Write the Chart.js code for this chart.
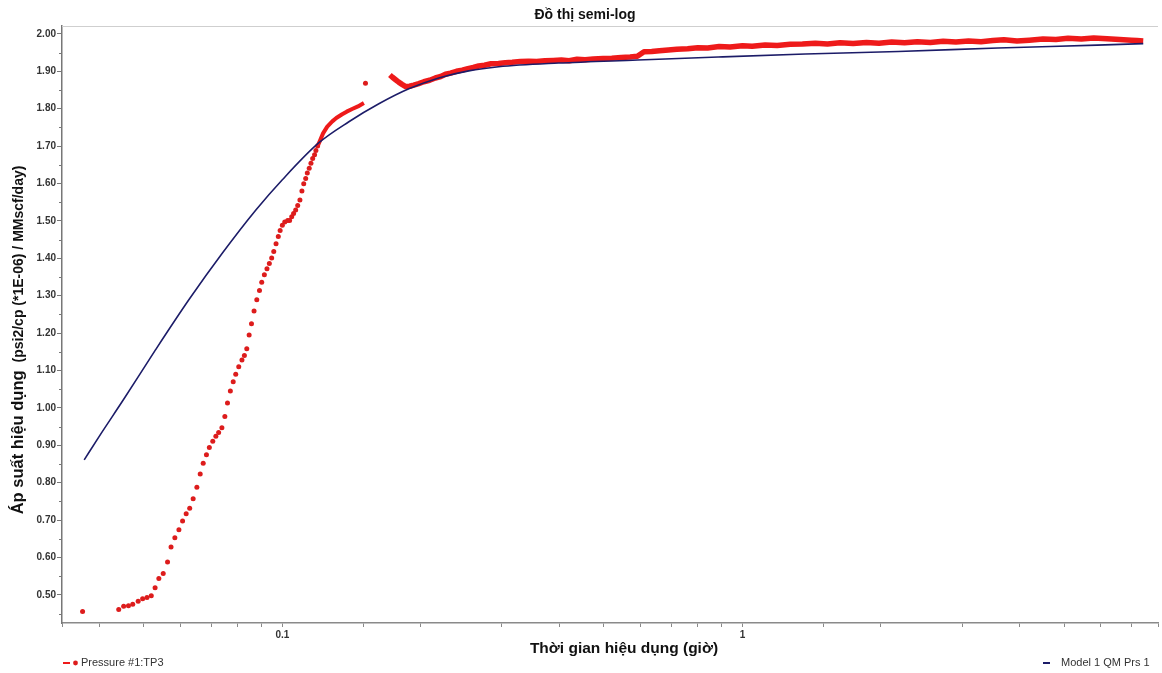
<!doctype html>
<html>
  <head>
    <meta charset="utf-8" />
    <title>Đồ thị semi-log</title>
    <script src="https://cdn.jsdelivr.net/npm/chart.js@4.4.1/dist/chart.umd.min.js"></script>
    <style>
      html, body { margin: 0; padding: 0; background: #fff; }
      canvas { display: block; }
    </style>
    <script>
      // sparse early samples of Pressure #1:TP3 (time in hours, value)
      const dotTime = [
        0.0368, 0.0441, 0.0452, 0.0463, 0.0473, 0.0486, 0.0497, 0.0508, 0.0519, 0.0529,
        0.0539, 0.0551, 0.0563, 0.0573, 0.0584, 0.0596, 0.0607, 0.0618, 0.0629, 0.0640,
        0.0652, 0.0663, 0.0673, 0.0684, 0.0694, 0.0706, 0.0717, 0.0727, 0.0739, 0.0750,
        0.0760, 0.0771, 0.0782, 0.0792, 0.0804, 0.0817, 0.0827, 0.0837, 0.0847, 0.0857,
        0.0868, 0.0880, 0.0892, 0.0902, 0.0914, 0.0926, 0.0937, 0.0948, 0.0958, 0.0969,
        0.0980, 0.0989, 0.1000, 0.1012, 0.1027, 0.1037, 0.1048, 0.1058, 0.1069, 0.1080,
        0.1092, 0.1103, 0.1113, 0.1124, 0.1133, 0.1144, 0.1154, 0.1164, 0.1175, 0.1183,
        0.1193, 0.1516
      ];
      const dotValue = [
        0.456, 0.461, 0.470, 0.471, 0.475, 0.483, 0.490, 0.493, 0.498, 0.519,
        0.544, 0.557, 0.588, 0.628, 0.653, 0.674, 0.698, 0.717, 0.732, 0.757,
        0.788, 0.823, 0.852, 0.875, 0.894, 0.911, 0.924, 0.934, 0.947, 0.977,
        1.013, 1.045, 1.070, 1.090, 1.110, 1.128, 1.140, 1.158, 1.195, 1.225,
        1.259, 1.289, 1.314, 1.336, 1.356, 1.372, 1.386, 1.401, 1.418, 1.439,
        1.458, 1.474, 1.488, 1.497, 1.501, 1.501, 1.511, 1.520, 1.529, 1.541,
        1.556, 1.580, 1.599, 1.613, 1.628, 1.641, 1.654, 1.667, 1.677, 1.688,
        1.700, 1.868
      ];

      // dense samples of the same gauge (drawn as a thick band), null = gap
      const bandTime = [
        0.1193, 0.1205, 0.1226, 0.1252, 0.1284, 0.131, 0.1349, 0.138, 0.1418, 0.146, 0.1504,
        0.16,
        0.1713, 0.1735, 0.176, 0.179, 0.182, 0.1854, 0.189, 0.193, 0.1979, 0.203,
        0.209, 0.215, 0.221, 0.2262, 0.232, 0.239, 0.246, 0.253, 0.26, 0.2671,
        0.275, 0.284, 0.295, 0.305, 0.316, 0.329, 0.343, 0.357, 0.372, 0.388,
        0.404, 0.42, 0.437, 0.455, 0.474, 0.498, 0.52, 0.545, 0.57, 0.591,
        0.611, 0.635, 0.66, 0.69, 0.72, 0.76, 0.8, 0.84, 0.89, 0.94,
        1.0, 1.05, 1.12, 1.19, 1.27, 1.35, 1.44, 1.53, 1.63, 1.74,
        1.86, 1.98, 2.11, 2.25, 2.4, 2.56, 2.73, 2.91, 3.1, 3.3,
        3.5, 3.7, 3.95, 4.2, 4.5, 4.8, 5.1, 5.45, 5.8, 6.2,
        6.6, 7.0, 7.2, 7.43
      ];
      const bandValue = [
        1.700, 1.712, 1.734, 1.752, 1.766, 1.775, 1.785, 1.792, 1.799, 1.806, 1.815,
        null,
        1.890, 1.884, 1.878, 1.871, 1.865, 1.859, 1.860, 1.863, 1.867, 1.872,
        1.876, 1.882, 1.886, 1.892, 1.895, 1.900, 1.903, 1.907, 1.910, 1.914,
        1.916, 1.920, 1.921, 1.923, 1.924, 1.926, 1.927, 1.926, 1.928, 1.929,
        1.930, 1.928, 1.932, 1.931, 1.933, 1.934, 1.935, 1.937, 1.938, 1.940,
        1.952, 1.953, 1.955, 1.957, 1.959, 1.960, 1.963, 1.962, 1.966, 1.965,
        1.968, 1.967, 1.970, 1.969, 1.972, 1.973, 1.975, 1.973, 1.976, 1.974,
        1.977, 1.975, 1.978, 1.976, 1.979, 1.977, 1.980, 1.978, 1.981, 1.979,
        1.982, 1.984, 1.981, 1.983, 1.986, 1.985, 1.988, 1.986, 1.989, 1.987,
        1.985, 1.983, 1.982, 1.981
      ];

      // Model 1 QM Prs 1
      const modelTime = [
        0.0371, 0.0400, 0.0451, 0.0530, 0.0628, 0.0741, 0.0876, 0.1000, 0.1201, 0.1395,
        0.1621, 0.1883, 0.2188, 0.2541, 0.2952, 0.3983, 0.5910, 0.8852, 1.3700, 2.1800,
        3.5900, 5.9000, 7.4300
      ];
      const modelValue = [
        0.861, 0.924, 1.021, 1.155, 1.291, 1.414, 1.529, 1.610, 1.709, 1.765,
        1.813, 1.853, 1.882, 1.901, 1.912, 1.922, 1.930, 1.938, 1.946, 1.953,
        1.962, 1.970, 1.974
      ];

      const xLabels = ["0.1", "1"];

      const RED = "#ee1a1a";
      const DOT = "#dd1c1c";
      const NAVY = "#1c1c68";
      const FONT = '"Liberation Sans", Arial, sans-serif';

      function pts(xs, ys) {
        return xs.map((x, i) => ({ x: x, y: ys[i] }));
      }

      const decor = {
        id: "decor",
        afterDraw(chart) {
          const c = chart.ctx;
          const a = chart.chartArea;
          const y = chart.scales.y;
          c.save();

          // top frame line
          c.strokeStyle = "#cfcfcf";
          c.lineWidth = 1;
          c.beginPath();
          c.moveTo(a.left, a.top + 0.5);
          c.lineTo(a.right, a.top + 0.5);
          c.stroke();

          // minor y ticks
          c.strokeStyle = "#777";
          c.beginPath();
          for (let v = 0.45; v < 2.0; v += 0.1) {
            const py = Math.round(y.getPixelForValue(v)) + 0.5;
            c.moveTo(a.left - 3, py);
            c.lineTo(a.left, py);
          }
          c.stroke();

          c.fillStyle = "#111";
          c.textAlign = "center";
          c.textBaseline = "middle";
          c.font = "bold 14px " + FONT;
          c.fillText("Đồ thị semi-log", 585, 15);

          c.font = "bold 15.5px " + FONT;
          c.fillText("Thời gian hiệu dụng (giờ)", 624, 649);

          // y title, two parts
          const p1 = "Áp suất hiệu dụng";
          const p2 = "(psi2/cp (*1E-06) / MMscf/day)";
          const f1 = "bold 16.5px " + FONT;
          const f2 = "bold 14px " + FONT;
          c.font = f1;
          const w1 = c.measureText(p1).width;
          c.font = f2;
          const w2 = c.measureText(p2).width;
          const gap = 8;
          const total = w1 + gap + w2;
          c.translate(23, 340);
          c.rotate(-Math.PI / 2);
          c.textAlign = "left";
          c.textBaseline = "alphabetic";
          c.font = f1;
          c.fillText(p1, -total / 2, 0);
          c.font = f2;
          c.fillText(p2, -total / 2 + w1 + gap, 0);
          c.setTransform(1, 0, 0, 1, 0, 0);

          // legend
          c.font = "11px " + FONT;
          c.textBaseline = "middle";
          c.fillStyle = RED;
          c.fillRect(63, 662, 7, 2);
          c.beginPath();
          c.arc(75.5, 663, 2.4, 0, Math.PI * 2);
          c.fillStyle = DOT;
          c.fill();
          c.fillStyle = "#333";
          c.fillText("Pressure #1:TP3", 81, 663);

          c.fillStyle = NAVY;
          c.fillRect(1043, 662, 7, 2);
          c.fillStyle = "#333";
          c.fillText("Model 1 QM Prs 1", 1061, 663);

          c.restore();
        },
      };

      document.addEventListener("DOMContentLoaded", () => {
        const canvas = document.getElementById("chart");
        new Chart(canvas, {
          type: "scatter",
          data: {
            datasets: [
              {
                label: "Model 1 QM Prs 1",
                data: pts(modelTime, modelValue),
                showLine: true,
                borderColor: NAVY,
                borderWidth: 1.6,
                pointRadius: 0,
                cubicInterpolationMode: "monotone",
              },
              {
                label: "Pressure #1:TP3",
                data: pts(bandTime, bandValue),
                showLine: true,
                spanGaps: false,
                borderColor: RED,
                borderWidth: 5,
                borderJoinStyle: "round",
                pointRadius: 0,
                segment: {
                  borderWidth: (ctx) => (ctx.p0.parsed.x < 0.16 ? 4 : 5.5),
                },
              },
              {
                label: "Pressure #1:TP3",
                data: pts(dotTime, dotValue),
                backgroundColor: DOT,
                borderWidth: 0,
                pointRadius: 2.5,
              },
            ],
          },
          options: {
            responsive: false,
            animation: false,
            layout: { padding: { top: 26, right: 2, left: 0, bottom: 0 } },
            plugins: {
              legend: { display: false },
              tooltip: { enabled: false },
            },
            scales: {
              x: {
                type: "logarithmic",
                min: 0.0332,
                max: 8.0,
                border: { color: "#8a8a8a", width: 1.5 },
                grid: { drawOnChartArea: false, tickLength: 4, color: "#8a8a8a" },
                ticks: {
                  autoSkip: false,
                  maxRotation: 0,
                  padding: 2,
                  color: "#333",
                  font: { family: FONT, size: 10, weight: "bold" },
                  callback: (v) => {
                    const s = String(+Number(v).toPrecision(3));
                    return xLabels.includes(s) ? s : "";
                  },
                },
                afterFit: (s) => { s.height = 50; },
              },
              y: {
                min: 0.425,
                max: 2.021,
                border: { color: "#777", width: 1.5 },
                grid: { drawOnChartArea: false, tickLength: 5, color: "#777" },
                ticks: {
                  stepSize: 0.1,
                  includeBounds: false,
                  padding: 1,
                  color: "#333",
                  font: { family: FONT, size: 10, weight: "bold" },
                  callback: (v) => Number(v).toFixed(2),
                },
                afterFit: (s) => { s.width = 62; },
              },
            },
          },
          plugins: [decor],
        });
      });
    </script>
  </head>
  <body>
    <canvas id="chart" width="1162" height="673"></canvas>
  </body>
</html>
